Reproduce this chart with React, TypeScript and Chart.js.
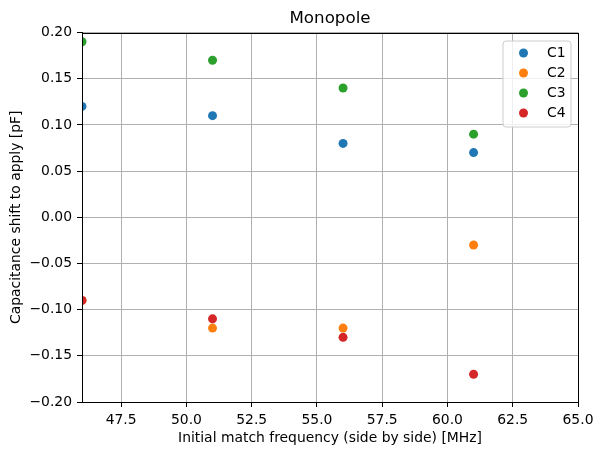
import React, { useEffect, useRef } from "react";
import { Chart, registerables } from "chart.js";

Chart.register(...registerables);

const frequencies = [46, 51, 56, 61];
const c1Values = [0.12, 0.11, 0.08, 0.07];
const c2Values = [-0.09, -0.12, -0.12, -0.03];
const c3Values = [0.19, 0.17, 0.14, 0.09];
const c4Values = [-0.09, -0.11, -0.13, -0.17];
const seriesLabels = ["C1", "C2", "C3", "C4"];
const seriesColors = ["#1f77b4", "#ff7f0e", "#2ca02c", "#d62728"];
const xTickValues = [47.5, 50, 52.5, 55, 57.5, 60, 62.5, 65];
const xTickLabels = ["47.5", "50.0", "52.5", "55.0", "57.5", "60.0", "62.5", "65.0"];
const yTickValues = [-0.2, -0.15, -0.1, -0.05, 0, 0.05, 0.1, 0.15, 0.2];
const yTickLabels = ["\u22120.20", "\u22120.15", "\u22120.10", "\u22120.05", "0.00", "0.05", "0.10", "0.15", "0.20"];

const FONT = "DejaVu Sans";

const framePlugin = {
  id: "frameAndLegend",
  afterDraw(chart: any) {
    const { ctx, chartArea } = chart;
    ctx.save();
    ctx.strokeStyle = "#000";
    ctx.lineWidth = 1;
    ctx.strokeRect(
      Math.round(chartArea.left) + 0.5,
      Math.round(chartArea.top) + 0.5,
      Math.round(chartArea.right - chartArea.left),
      Math.round(chartArea.bottom - chartArea.top)
    );
    // legend
    const boxRight = Math.round(chartArea.right) - 7;
    const boxTop = Math.round(chartArea.top) + 8;
    const boxW = 68;
    const boxH = 86;
    const boxLeft = boxRight - boxW;
    const r = 3;
    ctx.beginPath();
    ctx.moveTo(boxLeft + r, boxTop);
    ctx.lineTo(boxRight - r, boxTop);
    ctx.quadraticCurveTo(boxRight, boxTop, boxRight, boxTop + r);
    ctx.lineTo(boxRight, boxTop + boxH - r);
    ctx.quadraticCurveTo(boxRight, boxTop + boxH, boxRight - r, boxTop + boxH);
    ctx.lineTo(boxLeft + r, boxTop + boxH);
    ctx.quadraticCurveTo(boxLeft, boxTop + boxH, boxLeft, boxTop + boxH - r);
    ctx.lineTo(boxLeft, boxTop + r);
    ctx.quadraticCurveTo(boxLeft, boxTop, boxLeft + r, boxTop);
    ctx.closePath();
    ctx.fillStyle = "rgba(255,255,255,0.8)";
    ctx.fill();
    ctx.strokeStyle = "#cccccc";
    ctx.stroke();
    chart.data.datasets.forEach((ds: any, i: number) => {
      const y = boxTop + 12 + i * 20;
      ctx.beginPath();
      ctx.arc(boxLeft + 20.5, y, 4.5, 0, Math.PI * 2);
      ctx.fillStyle = ds.backgroundColor;
      ctx.fill();
      ctx.fillStyle = "#000";
      ctx.font = `13.9px "${FONT}"`;
      ctx.textBaseline = "middle";
      ctx.textAlign = "left";
      ctx.fillText(ds.label, boxLeft + 44, y);
    });
    ctx.restore();
  },
};

export default function App() {
  const canvasRef = useRef<HTMLCanvasElement | null>(null);

  useEffect(() => {
    const canvas = canvasRef.current;
    if (!canvas) return;
    const seriesValues = [c1Values, c2Values, c3Values, c4Values];
    const chart = new Chart(canvas, {
      type: "scatter",
      data: {
        datasets: seriesValues.map((vals, i) => ({
          label: seriesLabels[i],
          data: frequencies.map((f, j) => ({ x: f, y: vals[j] })),
          backgroundColor: seriesColors[i],
          borderColor: seriesColors[i],
          borderWidth: 0,
          pointRadius: 4.5,
          pointHoverRadius: 4.5,
          clip: 0,
          order: seriesValues.length - 1 - i,
        })),
      },
      options: {
        responsive: false,
        animation: false,
        events: [],
        layout: { padding: { top: 0, right: 25, left: 0, bottom: 0 } },
        plugins: {
          legend: { display: false },
          tooltip: { enabled: false },
          title: {
            display: true,
            text: "Monopole",
            fullSize: false,
            color: "#000",
            font: { family: FONT, size: 16.7, weight: "normal" },
            padding: { top: 8.5, bottom: 4 },
          },
        },
        scales: {
          x: {
            type: "linear",
            min: 46,
            max: 65,
            afterFit(scale: any) {
              scale.height = 53;
            },
            afterBuildTicks(scale: any) {
              scale.ticks = xTickValues.map((v) => ({ value: v }));
            },
            ticks: {
              color: "#000",
              font: { family: FONT, size: 13.9 },
              padding: 5,
              maxRotation: 0,
              autoSkip: false,
              callback: (v: any) => {
                const idx = xTickValues.findIndex((t) => Math.abs(t - Number(v)) < 1e-9);
                return idx >= 0 ? xTickLabels[idx] : "";
              },
            },
            grid: {
              color: "#b0b0b0",
              lineWidth: 1,
              drawTicks: true,
              tickLength: 5,
              tickColor: "#000",
              tickWidth: 1,
            },
            border: { display: true, color: "#000", width: 1 },
            title: {
              display: true,
              text: "Initial match frequency (side by side) [MHz]",
              color: "#000",
              font: { family: FONT, size: 13.9 },
              padding: { top: 0, bottom: 8.5 },
            },
          },
          y: {
            type: "linear",
            min: -0.2,
            max: 0.2,
            afterFit(scale: any) {
              scale.width = 82;
            },
            afterBuildTicks(scale: any) {
              scale.ticks = yTickValues.map((v) => ({ value: v }));
            },
            ticks: {
              color: "#000",
              font: { family: FONT, size: 13.9 },
              padding: 5,
              autoSkip: false,
              callback: (v: any) => {
                const idx = yTickValues.findIndex((t) => Math.abs(t - Number(v)) < 1e-9);
                return idx >= 0 ? yTickLabels[idx] : "";
              },
            },
            grid: {
              color: "#b0b0b0",
              lineWidth: 1,
              drawTicks: true,
              tickLength: 5,
              tickColor: "#000",
              tickWidth: 1,
            },
            border: { display: true, color: "#000", width: 1 },
            title: {
              display: true,
              text: "Capacitance shift to apply [pF]",
              color: "#000",
              font: { family: FONT, size: 13.9 },
              padding: { top: 7.6, bottom: 0 },
            },
          },
        },
      },
      plugins: [framePlugin],
    } as any);
    return () => chart.destroy();
  }, []);

  return (
    <div style={{ position: "fixed", left: 0, top: 0, width: 603, height: 455, background: "#fff" }}>
      <canvas ref={canvasRef} width={603} height={455} style={{ display: "block" }} />
    </div>
  );
}
